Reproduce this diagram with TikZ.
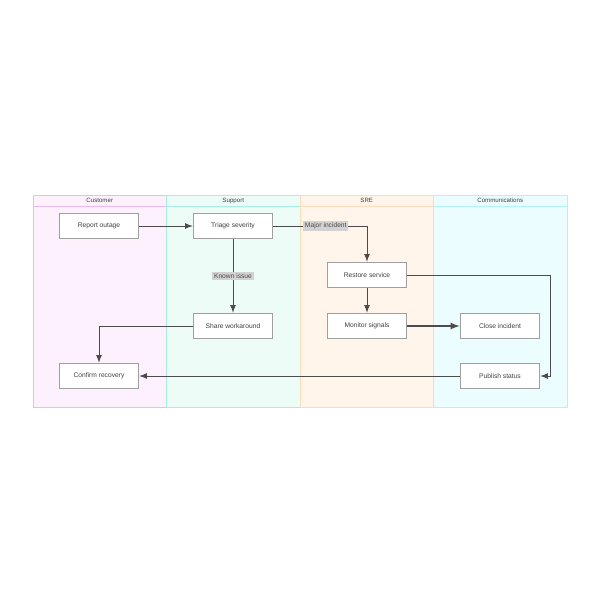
\documentclass[tikz,border=0pt]{standalone}
\usepackage{fontspec}
\setmainfont{Liberation Sans}
\usetikzlibrary{positioning, arrows, shapes}
\definecolor{custline}{HTML}{EDB8F6}
\definecolor{custfill}{HTML}{FDF1FE}
\definecolor{suppline}{HTML}{A6EEE0}
\definecolor{suppfill}{HTML}{EEFCF8}
\definecolor{sreline}{HTML}{FCDABC}
\definecolor{srefill}{HTML}{FFF5EA}
\definecolor{commline}{HTML}{B2F2F8}
\definecolor{commfill}{HTML}{EBFDFE}

\begin{document}
\begin{tikzpicture}[x=0.02cm,y=-0.02cm,font=\fontsize{3.8}{4.5}\selectfont]
\tikzset{task/.style={draw=gray!75,line width=0.9pt,fill=white,minimum width=1.58cm,minimum height=0.5cm,text=black!75},
flow/.style={draw=black!70,line width=0.5pt,-latex},
tag/.style={fill=gray!35,inner sep=1pt,text=black!70}}
\useasboundingbox (0,0) rectangle (600,600);
\foreach \x/\name/\lc/\fc in {33/Customer/custline/custfill,166.5/Support/suppline/suppfill,300/SRE/sreline/srefill,433.5/Communications/commline/commfill}
{
\filldraw[draw=\lc,fill=\fc,line width=0.5pt] (\x,195) rectangle ++(133.5,212);
\draw[draw=\lc,line width=0.5pt] (\x,206) -- ++(133.5,0);
\node[font=\fontsize{3.5}{4}\selectfont,text=black!75] at (\x+66.75,200.5) {\name};
}

\node[task] (report) at (99,226) {Report outage};
\node[task] (triage) at (233,226) {Triage severity};
\node[task] (restore) at (367,275) {Restore service};
\node[task] (share) at (233,326) {Share workaround};
\node[task] (monitor) at (367,326) {Monitor signals};
\node[task] (close) at (500,326) {Close incident};
\node[task] (confirm) at (99,376) {Confirm recovery};
\node[task] (publish) at (500,376) {Publish status};
\coordinate (pbend) at (550,376);

\draw[flow] (report) -- (triage);
\draw[flow] (triage) -| (restore) node[tag,pos=0.28] {Major incident};
\draw[flow] (triage) -- (share) node[tag,midway] {Known issue};
\draw[flow] (restore) -- (monitor);
\draw[flow,line width=0.8pt] (monitor) -- (close);
\draw[flow] (restore) -| (pbend) -- (publish);
\draw[flow] (share) -| (confirm);
\draw[flow,draw=gray!60!black] (publish) -- (confirm);
\end{tikzpicture}
\end{document}
